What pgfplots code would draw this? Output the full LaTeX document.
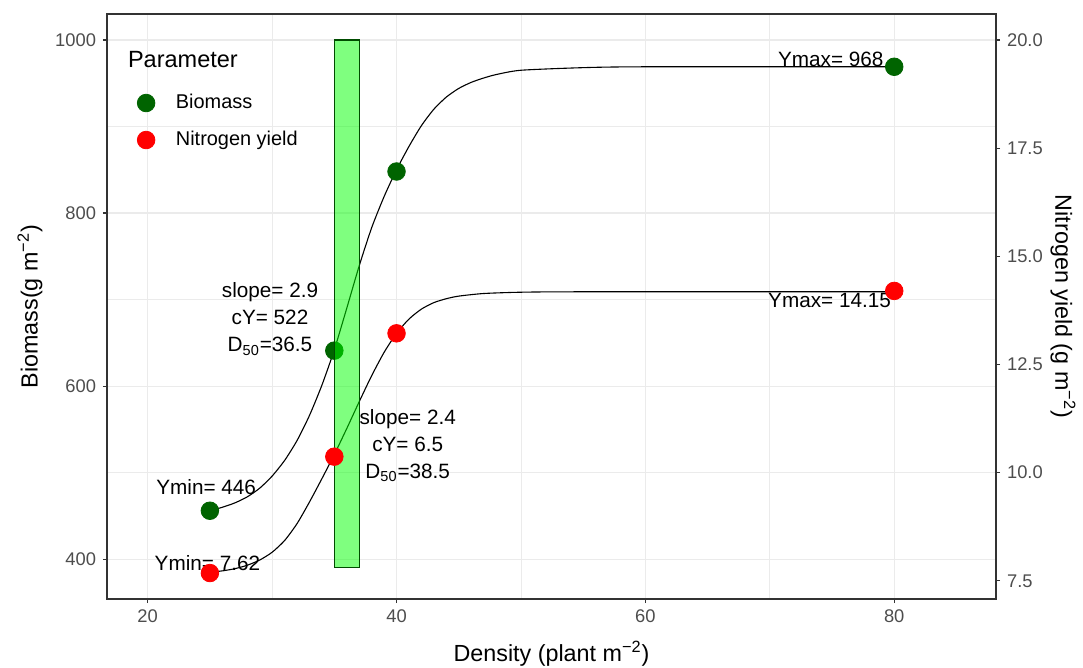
\documentclass[border=0pt]{standalone}
\usepackage{pgfplots}
\usepackage{pgfplotstable}
\pgfplotsset{compat=1.18}
\usepackage{fontspec}
\setmainfont{Liberation Sans}

\definecolor{tickgray}{HTML}{4D4D4D}
\definecolor{frame}{HTML}{333333}
\definecolor{gridc}{HTML}{EBEBEB}
\definecolor{bmgreen}{HTML}{006400}
\definecolor{nred}{HTML}{FF0000}
\definecolor{rectfill}{HTML}{00FF00}

% fitted curves
\pgfplotstableread{
x y
25 456
26 460
27 465
28 472
29 482
30 496
31 514
32 537
33 566
34 601
35 642
36 690
37 739
38 783
39 819
40 850
41 877
42 901
43 920
44 934
45 944
46 951
47 956
48 960
50 965
55 968
60 969
80 969
}\biocurve

\pgfplotstableread{
x y
25 7.70
26 7.73
27 7.78
28 7.86
29 7.98
30 8.16
31 8.43
32 8.82
33 9.32
34 9.86
35 10.42
36 11.02
37 11.64
38 12.24
39 12.78
40 13.22
41 13.55
42 13.78
43 13.93
44 14.02
45 14.08
47 14.14
50 14.17
55 14.18
80 14.18
}\ncurve

\pgfplotsset{
  panel/.style={
    width=444.5bp, height=292.5bp, scale only axis,
    xmin=16.73, xmax=88.18,
    tick align=outside,
    major tick length=2bp, minor tick length=0pt,
    tick style={color=frame, line width=0.6bp},
    axis line style={color=frame, line width=0.75bp},
    ticklabel style={font=\fontsize{9.2}{11}\selectfont, text=tickgray},
    /pgf/number format/assume math mode=true,
    /pgf/number format/1000 sep={},
    scaled ticks=false,
  },
}

\begin{document}
\begin{tikzpicture}
\path[use as bounding box] (-53.5bp,-34.5bp) rectangle (488bp,299.5bp);

\begin{axis}[
  panel,
  ymin=354, ymax=1030,
  xtick={20,40,60,80}, ytick={400,600,800,1000},
  minor xtick={30,50,70}, minor ytick={500,700,900},
  xtick pos=left, ytick pos=left,
  grid=both,
  major grid style={color=gridc, line width=0.6bp},
  minor grid style={color=gridc, line width=0.35bp},
  legend cell align=left,
  legend style={
    at={(axis description cs:0.03366,0.8162)}, anchor=west,
    draw=none, fill=none, inner xsep=0pt, inner ysep=0pt,
    nodes={inner sep=0pt, text height=7bp, text depth=2bp, font=\fontsize{10}{12}\selectfont},
    row sep=9.5bp, column sep=10.5bp,
  },
]
\addlegendimage{only marks, mark=*, mark size=4.4bp, color=bmgreen}
\addlegendentry{Biomass}
\addlegendimage{only marks, mark=*, mark size=4.4bp, color=nred}
\addlegendentry{Nitrogen yield}

\addplot[black, line width=0.55bp, smooth, tension=0.4, forget plot] table[x=x, y=y] {\biocurve};
\addplot[only marks, mark=*, mark size=4.4bp, color=bmgreen, forget plot]
  coordinates {(25,456) (35,641) (40,848) (80,969)};
\end{axis}

\begin{axis}[
  panel,
  ymin=7.08, ymax=20.6,
  axis x line=none, axis y line*=right,
  ytick={7.5,10,12.5,15,17.5,20},
  yticklabel style={/pgf/number format/.cd, fixed, fixed zerofill, precision=1},
]
\addplot[black, line width=0.55bp, smooth, tension=0.4] table[x=x, y=y] {\ncurve};
\addplot[only marks, mark=*, mark size=4.4bp, color=nred]
  coordinates {(25,7.68) (35,10.37) (40,13.22) (80,14.2)};
\addplot[fill=rectfill, fill opacity=0.5, draw=black!70!green, line width=0.6bp]
  coordinates {(35,7.8) (37,7.8) (37,20) (35,20)} -- cycle;

\begin{scope}[every node/.style={font=\fontsize{10.4}{13.5}\selectfont, text=black, inner sep=0pt}]
\node[align=center] at (axis cs:29.83,13.55) {slope= 2.9\\cY= 522\\D\textsubscript{50}=36.5};
\node[align=center] at (axis cs:40.9,10.62) {slope= 2.4\\cY= 6.5\\D\textsubscript{50}=38.5};
\node at (axis cs:24.7,9.67) {Ymin= 446};
\node at (axis cs:24.8,7.91) {Ymin= 7.62};
\node at (axis cs:74.9,19.54) {Ymax= 968};
\node at (axis cs:74.8,13.97) {Ymax= 14.15};
\end{scope}
\end{axis}

\node[anchor=west, font=\fontsize{11.8}{14}\selectfont] at (7bp,269.5bp) {Parameter};
\node[font=\fontsize{11.7}{14}\selectfont] at (222.25bp,-27.5bp) {Density (plant m\textsuperscript{−2})};
\node[rotate=90, font=\fontsize{11.7}{14}\selectfont] at (-38.5bp,146.25bp) {Biomass(g m\textsuperscript{−2})};
\node[rotate=-90, font=\fontsize{11.7}{14}\selectfont] at (478bp,146.25bp) {Nitrogen yield (g m\textsuperscript{−2})};
\end{tikzpicture}
\end{document}
